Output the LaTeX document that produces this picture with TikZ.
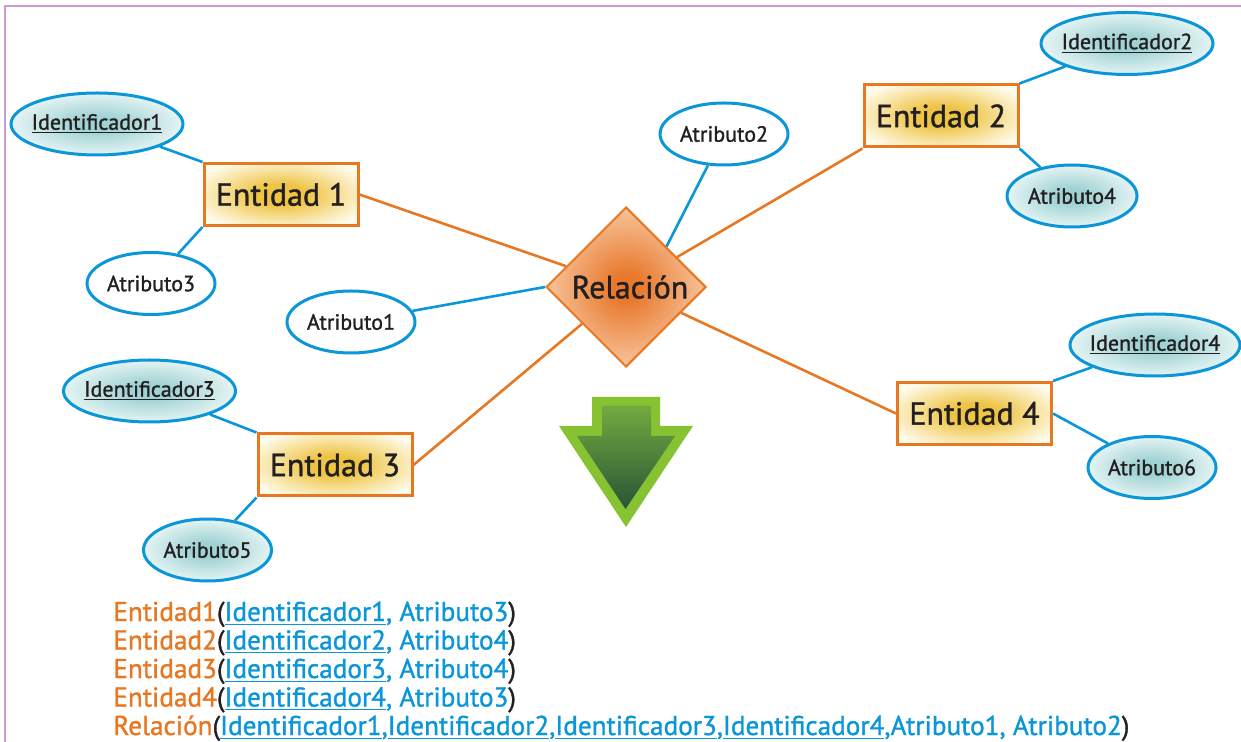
\documentclass[tikz,border=0pt]{standalone}
\usepackage{fontspec}
\setmainfont{PT Sans}[FakeBold=1.2]
\newfontfamily\medfont{PT Sans}[FakeBold=1.2]
\usetikzlibrary{shapes.geometric}
\definecolor{eorange}{HTML}{E87722}
\definecolor{eblue}{HTML}{0A96D8}
\definecolor{tealc}{HTML}{9FD2D3}
\definecolor{tealo}{HTML}{F0F9F9}
\definecolor{goldc}{HTML}{EEC445}
\definecolor{goldo}{HTML}{FFFBEA}
\definecolor{relc}{HTML}{E8782C}
\definecolor{relo}{HTML}{F9CFAC}
\definecolor{framec}{HTML}{CC99CC}
\definecolor{limec}{HTML}{86C232}
\definecolor{gtop}{HTML}{72AA40}
\definecolor{gbot}{HTML}{285535}
\definecolor{txt}{HTML}{231F20}
\pgfdeclareradialshading{entsh}{\pgfpoint{0bp}{0bp}}{color(0bp)=(goldc); color(8bp)=(goldc); color(30bp)=(goldo); color(50bp)=(goldo)}
\pgfdeclareradialshading{relsh}{\pgfpoint{0bp}{0bp}}{color(0bp)=(relc); color(4bp)=(relc); color(28bp)=(relo); color(50bp)=(relo)}
\pgfdeclareradialshading{tealsh}{\pgfpoint{0bp}{0bp}}{color(0bp)=(tealc); color(6bp)=(tealc); color(28bp)=(tealo); color(50bp)=(tealo)}
\newcommand\zerobox[1]{\makebox[0pt]{#1}}
\begin{document}
\begin{tikzpicture}[x=0.5pt,y=-0.5pt,
  entbox/.style={rectangle,draw=eorange,line width=1.5pt,inner sep=0pt,
    minimum width=77pt,minimum height=31pt,shading=entsh,
    font=\medfont\fontsize{16}{18}\selectfont,text=txt},
  idell/.style={ellipse,draw=eblue,line width=1.5pt,inner sep=0pt,
    minimum width=86pt,minimum height=31pt,shading=tealsh,
    font=\medfont\fontsize{11}{13}\selectfont,text=txt},
  atell/.style={ellipse,draw=eblue,line width=1.5pt,inner sep=0pt,
    minimum width=64pt,minimum height=31pt,fill=white,
    font=\medfont\fontsize{11}{13}\selectfont,text=txt},
  atteal/.style={atell,shading=tealsh},
  relshape/.style={diamond,draw=eorange,line width=1pt,inner sep=0pt,aspect=1,
    minimum width=80pt,minimum height=80pt,shading=relsh,
    font=\medfont\fontsize{16}{18}\selectfont,text=txt},
  orl/.style={draw=eorange,line width=1.3pt},
  bll/.style={draw=eblue,line width=1.3pt},
  rowtxt/.style={anchor=base west,inner sep=0pt,font=\medfont\fontsize{13.6}{15}\selectfont,text=txt}
]
\useasboundingbox (0,0) rectangle (1241,742);
% frame
\draw[framec,line width=1pt] (5,742) -- (5,6) -- (1241,6);

% nodes
\node[relshape] (rel) at (626,287) {\zerobox{\hspace{4pt}Relación}};
\node[entbox] (e1) at (281,194.5) {\zerobox{Entidad 1}};
\node[entbox] (e2) at (941,116) {\zerobox{Entidad 2}};
\node[entbox] (e3) at (335,465) {\zerobox{Entidad 3}};
\node[entbox] (e4) at (974.5,413.5) {\zerobox{Entidad 4}};

\node[idell] (id1) at (97,124) {\zerobox{\underline{Identificador1}}};
\node[idell] (id2) at (1127,43.5) {\zerobox{\underline{Identificador2}}};
\node[idell] (id3) at (149.5,391) {\zerobox{\underline{Identificador3}}};
\node[idell,minimum width=85pt] (id4) at (1155,345) {\zerobox{\underline{Identificador4}}};

\node[atell] (a3) at (151,283.5) {\zerobox{Atributo3}};
\node[atell] (a1) at (351,322) {\zerobox{Atributo1}};
\node[atell] (a2) at (724,134) {\zerobox{Atributo2}};
\node[atteal,minimum width=65pt] (a4) at (1072,196) {\zerobox{Atributo4}};
\node[atteal] (a5) at (207.5,550) {\zerobox{Atributo5}};
\node[atteal] (a6) at (1152,467.5) {\zerobox{Atributo6}};

% connectors
\path[orl] (e1.east) -- (rel);
\path[orl] (e2.south west) -- (rel);
\path[orl] (e3.east) -- (rel);
\path[orl] (e4.west) -- (rel);

\path[bll] (id1) -- (e1.north west);
\path[bll] (a3) -- (e1.south west);
\path[bll] (a1) -- (rel.west);
\path[bll] (a2) -- (rel.north east);
\path[bll] (id2) -- (e2.north east);
\path[bll] (a4) -- (e2.south east);
\path[bll] (id3) -- (e3.north west);
\path[bll] (a5) -- (e3.south west);
\path[bll] (id4) -- (e4.north east);
\path[bll] (a6) -- (e4.east);

% arrow
\fill[limec] (592,397) -- (660,397) -- (660,426) -- (693,426) -- (626,527)
  -- (559,426) -- (592,426) -- cycle;
\shade[top color=gtop,bottom color=gbot] (602,406) -- (651,406) -- (651,436)
  -- (675,436) -- (625.5,509) -- (577,436) -- (602,436) -- cycle;

% relational schema text
\node[rowtxt] (r1) at (113,621) {\textcolor{eorange}{Entidad1}(\textcolor{eblue}{\underline{Identificador1}, Atributo3})};
\node[rowtxt] (r2) at (113,649.5) {\textcolor{eorange}{Entidad2}(\textcolor{eblue}{\underline{Identificador2}, Atributo4})};
\node[rowtxt] (r3) at (113,678) {\textcolor{eorange}{Entidad3}(\textcolor{eblue}{\underline{Identificador3}, Atributo4})};
\node[rowtxt] (r4) at (113,706.5) {\textcolor{eorange}{Entidad4}(\textcolor{eblue}{\underline{Identificador4}, Atributo3})};
\node[rowtxt] (r5) at (113,735) {\textcolor{eorange}{Relación}(\textcolor{eblue}{\underline{Identificador1},\underline{Identificador2},\underline{Identificador3},\underline{Identificador4},Atributo1, Atributo2})};
\end{tikzpicture}
\end{document}
